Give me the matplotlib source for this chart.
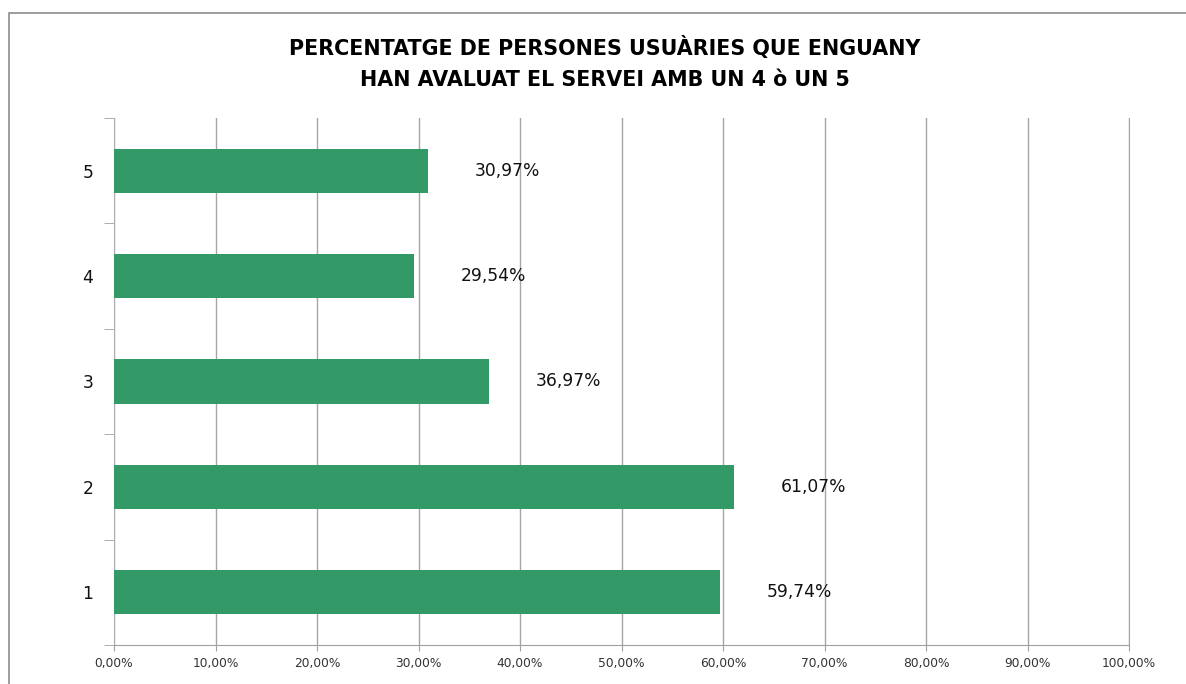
import matplotlib
matplotlib.use("Agg")
import matplotlib.pyplot as plt
from matplotlib.patches import Rectangle
import numpy as np

# data
categories = ["1", "2", "3", "4", "5"]
values = [59.74, 61.07, 36.97, 29.54, 30.97]
value_labels = ["59,74%", "61,07%", "36,97%", "29,54%", "30,97%"]
xticks = [0, 10, 20, 30, 40, 50, 60, 70, 80, 90, 100]
xtick_labels = ["0,00%", "10,00%", "20,00%", "30,00%", "40,00%", "50,00%",
                "60,00%", "70,00%", "80,00%", "90,00%", "100,00%"]
title = "PERCENTATGE DE PERSONES USUÀRIES QUE ENGUANY\nHAN AVALUAT EL SERVEI AMB UN 4 ò UN 5"

plt.rcParams['font.family'] = ['DejaVu Sans']

fig = plt.figure(figsize=(11.86, 6.84), dpi=100)
ax = fig.add_axes([114/1186, 1 - 645/684, (1129 - 114)/1186, (645 - 118)/684])

# chart border (top and left visible)
fig.patches.append(Rectangle((9/1186, -0.1), 1.2, 1 - 13/684 + 0.1,
                             transform=fig.transFigure, fill=False,
                             edgecolor="#8c8c8c", linewidth=1.2))

y = np.arange(len(categories))
ax.barh(y, values, height=0.42, color="#339966", zorder=3)

for yi, v, lab in zip(y, values, value_labels):
    ax.text(v + 4.6, yi, lab, va="center", ha="left", fontsize=12.3, color="#111111")

ax.set_xlim(0, 100)
ax.set_ylim(-0.5, len(categories) - 0.5)
ax.set_xticks(xticks)
ax.set_xticklabels(xtick_labels, fontsize=8.8, color="#333333")
ax.set_yticks(y)
ax.set_yticklabels(categories, fontsize=12.3, color="#111111")
ax.tick_params(axis="y", length=0, pad=15)
ax.set_yticks(np.arange(-0.5, len(categories)), minor=True)
ax.tick_params(axis="y", which="minor", length=7, color="#a0a0a0")
ax.tick_params(axis="x", length=4, color="#a0a0a0", pad=5)

ax.grid(axis="x", color="#a6a6a6", linewidth=1, zorder=0)
ax.spines["top"].set_visible(False)
ax.spines["right"].set_color("#a6a6a6")
ax.spines["left"].set_color("#b0b0b0")
ax.spines["bottom"].set_color("#a0a0a0")

fig.text(605/1186, 1 - 63/684, title, ha="center", va="center",
         fontsize=14.9, fontweight="bold", linespacing=1.65)

fig.savefig("out.png", dpi=100)
